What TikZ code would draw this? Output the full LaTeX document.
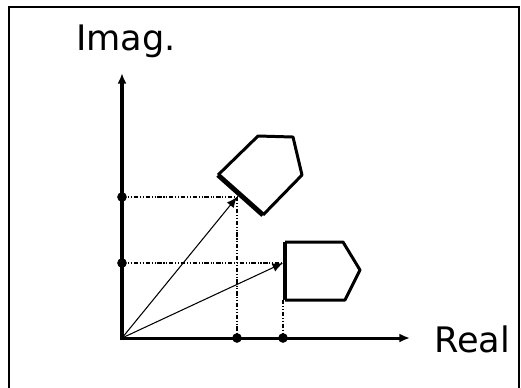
\documentclass[tikz,border=0pt]{standalone}
\usepackage{fontspec}
\setmainfont{DejaVu Sans}
\usetikzlibrary{arrows.meta}
\tikzset{
  axis/.style={line width=1.7pt,-{Latex[length=6pt,width=5pt]}},
  vec/.style={line width=0.6pt,-{Latex[length=6pt,width=5pt]}},
  proj/.style={line width=0.6pt,dash pattern=on 2.5pt off 1pt on 0.6pt off 1pt on 0.6pt off 1pt},
  dot/.style={circle,fill,inner sep=0pt,minimum size=5.5pt},
  outline/.style={line width=1.7pt,line join=round},
  baseedge/.style={line width=2.8pt},
  lbl/.style={anchor=base west,font=\fontsize{20}{24}\selectfont}
}
\begin{document}
\begin{tikzpicture}[x=0.02cm,y=-0.02cm]
\useasboundingbox (0,0) rectangle (521,387);
% frame
\draw [line width=0.6pt] (9,390) -- (9,7) -- (519,7) -- (519,390);
% points
\coordinate (o) at (122,338);
\coordinate (ytop) at (122,73);
\coordinate (xend) at (410,338);
\coordinate (p) at (237,197);
\coordinate (q) at (283,263);
% labels
\node [lbl] (imag) at (70,50) {Imag.};
\node [lbl] (real) at (428,352) {Real};
% projections
\draw [proj] (122,197) -- (p);
\draw [proj] (122,263) -- (q);
\draw [proj] (p) -- (237,338);
\draw [proj] (283,300) -- (283,338);
% rotated shape
\draw [outline] (218,175) -- (258,136) -- (293,137) -- (302,175) -- (263,215);
\draw [baseedge] (218,175) -- (263,215);
% original shape
\draw [outline] (285,242) -- (343,242) -- (360,270) -- (345,300) -- (285,300);
\draw [baseedge] (285,242) -- (285,300);
% vectors
\draw [vec] (o) -- (p);
\draw [vec] (o) -- (q);
% axes
\draw [axis,line width=2.6pt] (122,340) -- (ytop);
\draw [axis] (121,338) -- (xend);
% tick dots
\node [dot] (y1) at (122,197) {};
\node [dot] (y2) at (122,263) {};
\node [dot] (x1) at (237,338) {};
\node [dot] (x2) at (283,338) {};
\end{tikzpicture}
\end{document}
